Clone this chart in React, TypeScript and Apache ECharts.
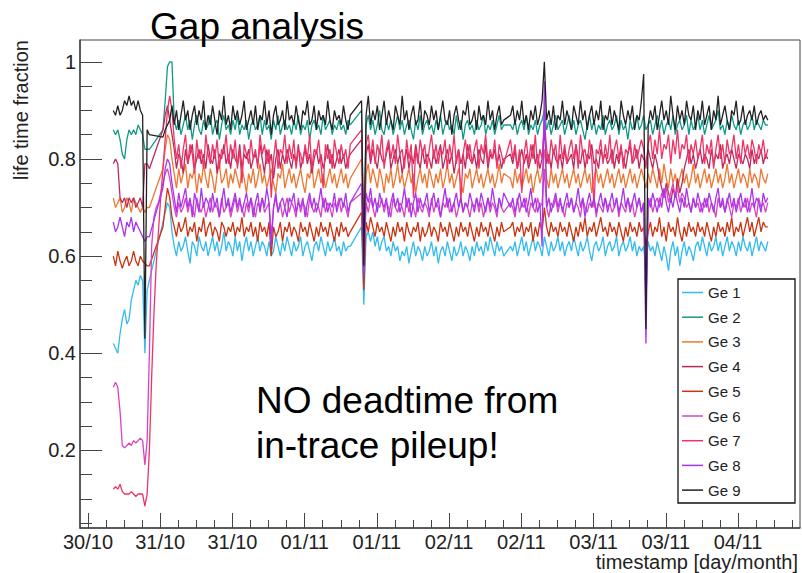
import React, { useEffect, useRef } from 'react';
import * as echarts from 'echarts';

const FONT = '"Liberation Sans", Arial, Helvetica, sans-serif';

// time axis: hours after 30/10 18:00, samples every 22.5 min
const T_START = 4.2;
const T_STEP = 0.375;

const xTickLabels = ['30/10', '31/10', '31/10', '01/11', '01/11', '02/11', '02/11', '03/11', '03/11', '04/11'];
const xTickHours = [0, 12, 24, 36, 48, 60, 72, 84, 96, 108];
const yMajorTicks = [0.2, 0.4, 0.6, 0.8, 1];
const yMinorTicks = [0.05, 0.1, 0.15, 0.25, 0.3, 0.35, 0.45, 0.5, 0.55, 0.65, 0.7, 0.75, 0.85, 0.9, 0.95];
const xMinorTicks = [3, 6, 9, 15, 18, 21, 27, 30, 33, 39, 42, 45, 51, 54, 57, 63, 66, 69, 75, 78, 81, 87, 90, 93, 99, 102, 105, 111, 114, 117];

const N = null;

// life time fraction in percent
const ge1 = [
  42, 41, 40, 44, 47, 49, 46, 47, 51, 53, 55, 54, 56, 55, 40, 53, 55, N, N, N,
  N, N, 67, 69, 71, 70, 65, 62, 60, 63, 61, 62, 64, 61, 58.5, 63, 62, 60, 64, 62,
  61, 63, 60, 62, 64, 61, 63, 60, 62, 65, 61, 63, 62, 60, 64, 61, 63, 59, 62, 64,
  61, 63, 60, 62, 64, 61, 63, 62, 60, 63, 60, 61, 64, 62, 60, 63, 61, 64, 62, 60,
  63, 61, 62, 64, 60, 62, 63, 61, 59, 62, 63, 61, 64, 62, 60, 63, 61, 62, 64, 61,
  62, 60, 63, 61, 62, 62, N, N, N, N, 66, 50, 64, 65, 63, 65, 62, 64, 61, 63,
  64, 61, 62, 60, 63, 61, 62, 59, 61, 60, 62, 58.5, 61, 63, 60, 62, 61, 59, 62, 60,
  61, 63, 60, 62, 58.5, 61, 62, 60, 63, 61, 59, 62, 60, 61, 63, 60, 62, 61, 59, 62,
  60, 63, 61, 62, 60, 63, 61, 64, 62, 60, 63, 61, 62, 60, N, N, 62, 61, 63, 60,
  62, 64, 61, 63, 60, 62, 64, 61, 63, 62, 60, 64, 62, 60, 63, 61, 62, 64, 61, 63,
  60, 62, 63, 61, 64, 62, 60, 63, 61, 62, 64, 61, 59, 62, 63, 61, 62, 64, 60, 62,
  63, 61, 62, 64, 60, 62, 63, 61, 62, 64, 61, 63, 60, 62, 61, 62, 58, 63, 61, 62,
  60, 63, 61, 59, 62, 60, 57, 61, 63, 60, 62, 58, 61, 63, 60, 62, 61, 59, 62, 63,
  61, 64, 62, 60, 63, 61, 62, 64, 61, 63, 60, 62, 64, 61, 63, 62, 60, 63, 61, 64,
  62, 61, 63, 60, 62, 64, 61, 63, 62, 61, 63,
];
const ge2 = [
  86, 85, 86, 84, 81, 80, 84, 86, 85, 86, 85, 87, 86, 85, 82, 82, 82, N, N, N,
  N, N, 86, 92, 99, 100, 100, 88, 86, 88, 85, 87, 89, 86, 88, 84, 87, 89, 86, 85,
  88, 86, 87, 89, 85, 87, 88, 84, 87, 89, 86, 87, 85, 88, 86, 89, 85, 87, 86, 88,
  84, 87, 88, 86, 87, 89, 85, 88, 86, 87, 84, 88, 86, 89, 85, 87, 88, 86, 87, 85,
  88, 86, 89, 85, 87, 86, 88, 84, 87, 88, 86, 87, 85, 89, 86, 87, 88, 85, 87, 86,
  88, 86, 87, 85, 88, 87, N, N, N, N, 90, 62, 87, 89, 86, 88, 85, 87, 90, 86,
  85, 88, 86, 88, 85, 87, 89, 86, 88, 85, 87, 88, 86, 84, 88, 86, 89, 85, 87, 88,
  86, 87, 85, 88, 86, 89, 85, 87, 88, 86, 87, 85, 89, 86, 88, 84, 87, 88, 86, 87,
  85, 88, 86, 87, 89, 85, 87, 86, 88, 85, 87, 89, 86, 87, N, N, 87, 86, 88, 85,
  87, 88, 86, 89, 85, 87, 86, 88, 85, 87, 88, 90, 86, 88, 85, 87, 89, 86, 87, 88,
  85, 87, 89, 86, 88, 85, 87, 88, 86, 84, 87, 89, 86, 88, 85, 87, 86, 89, 85, 87,
  88, 86, 87, 89, 85, 88, 86, 87, 84, 88, 86, 87, 89, 86, 87, 89, 86, 87, 88, 85,
  87, 89, 86, 88, 85, 87, 88, 86, 89, 85, 87, 88, 86, 87, 89, 85, 88, 86, 87, 89,
  86, 88, 85, 87, 89, 86, 87, 88, 90, 86, 87, 85, 88, 86, 89, 87, 86, 88, 85, 87,
  88, 86, 87, 89, 86, 88, 87, 86, 88, 87, 87,
];
const ge3 = [
  72, 70, 71, 72, 69, 70, 72, 71, 69, 72, 71, 70, 69, 70, 69, 70, 70, N, N, N,
  N, N, 78, 82, 85, 84, 80, 77, 74, 78, 75, 77, 79, 74, 77, 76, 78, 73, 77, 75,
  79, 76, 74, 78, 76, 73, 77, 79, 75, 76, 78, 74, 77, 75, 78, 76, 74, 78, 76, 73,
  77, 75, 78, 74, 76, 79, 75, 77, 74, 76, 78, 75, 73, 77, 76, 79, 74, 76, 78, 75,
  77, 74, 76, 78, 75, 73, 77, 76, 79, 74, 76, 78, 75, 77, 74, 76, 78, 75, 77, 74,
  76, 78, 75, 77, 74, 76, N, N, N, N, 80, 58, 77, 79, 75, 78, 76, 74, 78, 76,
  73, 77, 75, 78, 74, 76, 79, 75, 77, 74, 76, 78, 75, 77, 73, 76, 78, 75, 77, 74,
  78, 76, 74, 77, 75, 78, 74, 76, 79, 75, 77, 74, 76, 78, 75, 73, 77, 76, 78, 74,
  76, 78, 75, 77, 74, 76, 78, 75, 77, 74, 76, 79, 75, 77, N, N, 76, 74, 78, 75,
  77, 74, 76, 78, 75, 77, 73, 76, 78, 75, 77, 82, 76, 74, 78, 75, 77, 74, 76, 78,
  75, 77, 74, 76, 78, 75, 77, 74, 76, 78, 75, 77, 73, 76, 78, 75, 77, 74, 76, 78,
  75, 77, 74, 76, 78, 75, 77, 74, 76, 78, 75, 77, 74, 76, 78, 76, 74, 77, 75, 78,
  76, 74, 78, 75, 79, 76, 74, 78, 75, 77, 74, 76, 78, 75, 77, 74, 76, 79, 75, 77,
  74, 76, 78, 75, 77, 74, 76, 78, 75, 77, 74, 76, 79, 75, 77, 74, 76, 78, 75, 77,
  76, 74, 78, 75, 77, 76, 74, 78, 76, 75, 77,
];
const ge4 = [
  79, 80, 79, 72, 71, 72, 70, 72, 71, 72, 70, 71, 72, 70, 79, 79, 78, N, N, N,
  N, N, 86, 89, 91, 88, 85, 82, 78, 81, 80, 77, 82, 79, 81, 83, 78, 80, 82, 79,
  81, 78, 83, 80, 79, 82, 77, 81, 80, 83, 79, 81, 78, 82, 80, 79, 83, 78, 81, 80,
  82, 78, 80, 81, 79, 83, 80, 77, 82, 79, 81, 76, 80, 82, 78, 81, 79, 82, 80, 78,
  81, 79, 83, 78, 80, 82, 79, 81, 77, 80, 82, 79, 81, 78, 80, 83, 79, 81, 78, 80,
  82, 79, 81, 78, 80, 81, N, N, N, N, 84, 60, 81, 83, 79, 82, 80, 78, 82, 80,
  79, 81, 83, 78, 80, 82, 79, 81, 77, 80, 82, 78, 81, 79, 83, 80, 78, 82, 79, 81,
  80, 78, 82, 79, 81, 83, 78, 80, 82, 79, 81, 77, 80, 82, 79, 81, 78, 83, 80, 79,
  81, 78, 82, 80, 79, 83, 78, 81, 80, 82, 79, 81, 78, 80, N, N, 81, 79, 82, 78,
  80, 82, 79, 81, 78, 80, 83, 79, 81, 78, 80, 86, 79, 81, 78, 82, 80, 79, 81, 78,
  82, 79, 80, 81, 78, 83, 80, 79, 82, 78, 81, 80, 83, 79, 80, 78, 82, 80, 81, 79,
  80, 82, 78, 81, 79, 82, 80, 78, 81, 83, 79, 80, 82, 78, 81, 80, 79, 82, 80, 78,
  81, 79, 76, 74, 72, 75, 73, 71, 74, 72, 76, 73, 75, 78, 80, 82, 79, 81, 78, 80,
  82, 79, 81, 80, 78, 82, 79, 81, 80, 83, 78, 80, 81, 79, 82, 80, 78, 81, 80, 79,
  81, 80, 78, 82, 79, 81, 80, 82, 79, 81, 80,
];
const ge5 = [
  60, 58, 61, 59, 57.5, 59, 60, 58, 59, 61, 59, 58, 60, 59, 58.5, 58, 58, N, N, N,
  N, N, 66, 70, 74, 72, 68, 66, 64, 67, 65, 66, 68, 64, 66, 65, 67, 63, 66, 65,
  68, 64, 66, 67, 64, 66, 65, 63, 67, 66, 64, 66, 65, 67, 64, 66, 65, 68, 64, 66,
  65, 67, 64, 66, 63, 67, 65, 66, 64, 67, 60, 66, 64, 65, 67, 63, 66, 65, 67, 64,
  66, 65, 63, 67, 65, 66, 64, 67, 65, 63, 66, 64, 67, 65, 66, 64, 67, 65, 63, 66,
  64, 67, 65, 66, 64, 65, N, N, N, N, 69, 53, 67, 65, 68, 66, 64, 67, 65, 66,
  64, 67, 65, 63, 66, 64, 67, 65, 66, 63, 67, 65, 64, 66, 65, 67, 63, 66, 64, 65,
  67, 64, 66, 65, 63, 67, 65, 66, 64, 67, 65, 63, 66, 64, 67, 65, 66, 64, 67, 65,
  63, 66, 64, 67, 65, 66, 64, 67, 65, 63, 66, 64, 67, 65, N, N, 66, 67, 64, 66,
  65, 67, 64, 66, 65, 67, 63, 66, 64, 67, 65, 70, 66, 64, 67, 65, 66, 64, 67, 65,
  66, 64, 67, 65, 63, 66, 64, 67, 65, 68, 64, 66, 65, 67, 64, 66, 68, 65, 66, 64,
  67, 65, 66, 64, 67, 65, 63, 66, 64, 67, 65, 66, 64, 67, 65, 66, 62, 65, 67, 64,
  66, 65, 68, 64, 66, 63, 67, 65, 66, 64, 68, 65, 63, 66, 64, 67, 65, 66, 64, 67,
  65, 66, 64, 67, 65, 63, 66, 64, 67, 65, 66, 64, 67, 65, 68, 64, 66, 65, 67, 64,
  66, 68, 65, 67, 64, 66, 68, 65, 67, 66, 66,
];
const ge6 = [
  33, 34, 33, 28, 21, 20.5, 21, 21.5, 21, 22, 21.5, 22, 22.5, 22, 17, 22, 40, 62, 68, 70,
  71, 73, 75, 77, 78, 76, 73, 70, 68, 71, 69, 70, 72, 69, 71, 70, 68, 72, 70, 69,
  71, 68, 70, 72, 69, 71, 70, 68, 72, 69, 70, 71, 68, 70, 72, 69, 71, 70, 68, 71,
  69, 72, 70, 68, 71, 70, 72, 69, 70, 71, 64, 70, 72, 69, 71, 68, 70, 72, 69, 71,
  70, 68, 72, 69, 71, 70, 68, 72, 70, 69, 71, 70, 68, 72, 69, 71, 70, 68, 71, 70,
  72, 69, 71, 70, 68, 71, N, N, N, N, 73, 57, 71, 69, 72, 70, 68, 71, 70, 72,
  69, 71, 70, 68, 72, 70, 69, 71, 70, 68, 72, 69, 71, 70, 68, 72, 70, 69, 71, 70,
  68, 72, 69, 71, 70, 68, 71, 70, 72, 69, 70, 71, 68, 70, 72, 69, 71, 70, 68, 71,
  70, 72, 69, 71, 68, 70, 72, 69, 71, 70, 68, 72, 70, 69, N, N, 71, 70, 68, 72,
  69, 71, 70, 72, 68, 71, 70, 69, 72, 70, 71, 78, 70, 68, 71, 70, 72, 69, 71, 70,
  68, 71, 70, 72, 69, 71, 70, 68, 72, 70, 69, 71, 70, 72, 68, 71, 70, 69, 72, 70,
  71, 69, 70, 72, 68, 71, 70, 69, 72, 70, 71, 68, 70, 72, 69, 71, 50, 70, 72, 69,
  71, 72, 70, 73, 72, 74, 71, 73, 75, 72, 74, 71, 73, 72, 70, 71, 69, 72, 70, 71,
  69, 71, 70, 72, 69, 71, 70, 68, 72, 70, 71, 69, 72, 70, 68, 71, 70, 72, 69, 71,
  70, 72, 69, 71, 70, 68, 72, 70, 71, 69, 71,
];
const ge7 = [
  12, 12.5, 12, 13, 11.5, 11, 11, 11, 11.5, 11, 10.5, 11, 11, 11, 8.5, 11, 20, 35, 48, 58,
  65, 72, 78, 84, 90, 93, 90, 84, 80, 83, 78, 82, 85, 79, 83, 81, 77, 84, 80, 82,
  78, 85, 81, 79, 83, 80, 84, 78, 82, 81, 85, 79, 83, 80, 84, 78, 82, 75, 83, 81,
  79, 84, 80, 82, 78, 85, 81, 83, 79, 82, 72, 80, 84, 78, 82, 81, 85, 79, 83, 80,
  84, 78, 82, 81, 79, 83, 80, 85, 78, 82, 81, 84, 79, 74, 83, 80, 82, 78, 84, 81,
  79, 83, 80, 82, 78, 83, N, N, N, N, 86, 62, 83, 85, 80, 84, 79, 83, 81, 85,
  78, 82, 84, 80, 83, 79, 85, 81, 82, 78, 84, 80, 83, 72, 82, 79, 84, 81, 83, 78,
  82, 85, 80, 83, 79, 82, 81, 84, 78, 83, 80, 85, 79, 82, 71, 81, 84, 80, 83, 79,
  82, 84, 78, 83, 81, 85, 79, 82, 80, 84, 78, 83, 81, 79, N, N, 84, 80, 83, 78,
  82, 73, 81, 84, 79, 83, 80, 85, 78, 82, 80, 88, 82, 79, 84, 81, 83, 78, 85, 80,
  83, 79, 82, 84, 80, 83, 78, 85, 81, 82, 79, 84, 80, 70, 82, 81, 84, 79, 83, 80,
  85, 79, 82, 84, 80, 83, 78, 82, 81, 84, 79, 83, 80, 82, 84, 82, 78, 83, 85, 80,
  84, 81, 86, 80, 83, 82, 85, 79, 84, 81, 86, 80, 83, 82, 85, 79, 83, 81, 84, 80,
  82, 85, 79, 83, 81, 84, 78, 82, 85, 80, 83, 79, 84, 81, 82, 85, 80, 83, 79, 84,
  81, 83, 80, 84, 82, 79, 83, 81, 84, 80, 82,
];
const ge8 = [
  67, 65, 66, 68, 66, 64, 67, 66, 68, 65, 67, 66, 65, 64, 63, 64, 64, N, N, N,
  N, N, 74, 78, 80, 79, 75, 72, 69, 73, 70, 72, 74, 70, 72, 68, 73, 71, 69, 74,
  70, 72, 71, 69, 73, 70, 72, 68, 71, 74, 70, 72, 69, 71, 73, 70, 72, 69, 71, 73,
  70, 72, 68, 71, 73, 69, 72, 70, 74, 71, 62, 70, 73, 69, 71, 72, 70, 68, 72, 71,
  73, 69, 71, 70, 72, 68, 71, 73, 70, 72, 69, 71, 74, 70, 72, 69, 71, 70, 73, 69,
  71, 72, 70, 73, 69, 71, N, N, N, N, 75, 56, 73, 71, 74, 70, 72, 69, 73, 71,
  70, 72, 68, 71, 73, 70, 72, 69, 71, 74, 70, 72, 68, 71, 73, 69, 72, 70, 71, 73,
  69, 71, 73, 70, 72, 68, 71, 74, 70, 72, 69, 71, 73, 70, 72, 69, 71, 70, 73, 71,
  69, 72, 70, 73, 71, 69, 72, 70, 74, 71, 69, 72, 70, 73, N, N, 70, 72, 69, 71,
  73, 70, 72, 69, 71, 74, 70, 72, 69, 71, 62, 96, 70, 72, 69, 71, 73, 70, 72, 69,
  71, 73, 70, 72, 69, 71, 74, 70, 72, 68, 71, 73, 70, 72, 69, 71, 73, 70, 72, 69,
  71, 73, 70, 72, 69, 71, 74, 70, 72, 69, 71, 73, 70, 72, 69, 71, 42, 72, 70, 73,
  71, 69, 72, 70, 74, 71, 69, 72, 70, 73, 71, 69, 72, 70, 74, 71, 69, 72, 70, 73,
  71, 69, 72, 70, 73, 71, 69, 72, 74, 70, 72, 69, 71, 73, 70, 72, 69, 71, 73, 70,
  72, 69, 71, 74, 70, 72, 71, 69, 73, 71, 72,
];
const ge9 = [
  90, 89, 91, 89, 90, 92, 91, 93, 91, 92, 90, 92, 90, 89, 43, 86, 85, N, N, N,
  N, N, 84.5, 86, 87, 88, 91, 87, 90, 86, 89, 92, 88, 90, 86, 89, 91, 87, 90, 88,
  92, 86, 89, 87, 91, 88, 85, 90, 88, 93, 87, 89, 86, 91, 88, 90, 87, 89, 92, 86,
  88, 90, 87, 91, 86, 89, 88, 92, 87, 90, 85, 89, 91, 87, 88, 90, 86, 92, 88, 89,
  87, 91, 88, 86, 90, 89, 92, 87, 88, 91, 86, 90, 88, 89, 87, 92, 88, 86, 90, 88,
  89, 87, 91, 88, 86, 89, N, N, N, N, 92, 58, 89, 93, 87, 90, 88, 91, 86, 89,
  92, 87, 90, 88, 86, 91, 89, 87, 93, 88, 90, 86, 89, 91, 87, 88, 92, 86, 90, 89,
  87, 91, 88, 90, 86, 89, 92, 88, 87, 90, 85, 89, 91, 88, 86, 90, 89, 92, 87, 88,
  90, 86, 91, 88, 89, 87, 92, 88, 90, 86, 89, 91, 87, 88, N, N, 89, 91, 87, 90,
  88, 92, 87, 89, 86, 90, 88, 91, 87, 89, 92, 100, 88, 90, 87, 91, 86, 89, 88, 92,
  87, 90, 88, 86, 91, 89, 87, 92, 88, 90, 86, 89, 91, 87, 90, 88, 92, 86, 89, 88,
  91, 87, 90, 88, 86, 92, 89, 87, 90, 88, 91, 86, 89, 88, 92, 97.5, 45, 87, 90, 88,
  91, 86, 89, 92, 88, 90, 87, 93, 89, 86, 91, 88, 90, 87, 92, 89, 88, 91, 86, 90,
  88, 92, 87, 89, 91, 86, 90, 88, 93, 87, 89, 91, 88, 86, 90, 89, 92, 87, 88, 91,
  87, 89, 90, 88, 91, 87, 89, 90, 88, 89, 88,
];

const seriesNames = ['Ge 1', 'Ge 2', 'Ge 3', 'Ge 4', 'Ge 5', 'Ge 6', 'Ge 7', 'Ge 8', 'Ge 9'];
const seriesValues = [ge1, ge2, ge3, ge4, ge5, ge6, ge7, ge8, ge9];
const seriesColors = ['#33BBEE', '#119988', '#EE7733', '#BB2A5E', '#CC3311', '#D844C0', '#EE3366', '#AA33EE', '#222222'];

export default function App() {
  const ref = useRef<HTMLDivElement>(null);

  useEffect(() => {
    if (!ref.current) return;
    const chart = echarts.init(ref.current, undefined, { renderer: 'svg' });

    const series = seriesValues.map((vals, k) => ({
      name: seriesNames[k],
      type: 'line',
      xAxisIndex: 0,
      yAxisIndex: 0,
      showSymbol: false,
      symbol: 'none',
      connectNulls: true,
      color: seriesColors[k],
      lineStyle: { width: 1.3, color: seriesColors[k] },
      data: vals.map((v, i) => [T_START + i * T_STEP, v == null ? null : v / 100]),
    }));

    const axisColor = '#444';
    const labelStyle = { color: '#222', fontFamily: FONT, fontSize: 20, lineHeight: 19 };

    chart.setOption({
      animation: false,
      backgroundColor: '#ffffff',
      grid: {
        left: 80, right: 2, top: 40, bottom: 45,
        show: true, borderColor: axisColor, borderWidth: 1, backgroundColor: 'transparent',
      },
      xAxis: [
        {
          type: 'value', min: -1.33, max: 118.3,
          axisLine: { show: true, onZero: false, lineStyle: { color: axisColor, width: 1.5 } },
          axisTick: { show: true, inside: true, length: 15, customValues: xTickHours, lineStyle: { color: axisColor } },
          axisLabel: {
            show: true, customValues: xTickHours, margin: 4, ...labelStyle,
            formatter: (v: number) => xTickLabels[Math.round(v / 12)] ?? '',
          },
          splitLine: { show: false },
        },
        {
          type: 'value', min: -1.33, max: 118.3, position: 'bottom',
          axisLine: { show: false, onZero: false },
          axisTick: { show: true, inside: true, length: 8, customValues: xMinorTicks, lineStyle: { color: axisColor } },
          axisLabel: { show: false },
          splitLine: { show: false },
        },
      ],
      yAxis: [
        {
          type: 'value', min: 0.04, max: 1.045,
          axisLine: { show: true, onZero: false, lineStyle: { color: axisColor, width: 1.5 } },
          axisTick: { show: true, inside: true, length: 22, customValues: yMajorTicks, lineStyle: { color: axisColor } },
          axisLabel: {
            show: true, customValues: yMajorTicks, margin: 4, ...labelStyle,
            formatter: (v: number) => (Math.abs(v - 1) < 1e-9 ? '1' : v.toFixed(1)),
          },
          splitLine: { show: false },
        },
        {
          type: 'value', min: 0.04, max: 1.045, position: 'left',
          axisLine: { show: false, onZero: false },
          axisTick: { show: true, inside: true, length: 12, customValues: yMinorTicks, lineStyle: { color: axisColor } },
          axisLabel: { show: false },
          splitLine: { show: false },
        },
      ],
      legend: {
        show: true,
        orient: 'vertical',
        left: 682, top: 284,
        padding: 0,
        icon: 'rect',
        itemWidth: 21, itemHeight: 1.5,
        itemGap: 7.7,
        data: seriesNames,
        textStyle: { color: '#222', fontFamily: FONT, fontSize: 15, lineHeight: 17 },
        z: 10,
      },
      graphic: [
        {
          type: 'rect', z: 5,
          shape: { x: 678, y: 279, width: 117, height: 224 },
          style: { fill: '#ffffff', stroke: '#111', lineWidth: 1.3 },
        },
        {
          type: 'text', x: 257, y: 26,
          style: { text: 'Gap analysis', fontFamily: FONT, fontSize: 37, fill: '#000', align: 'center', verticalAlign: 'middle' },
        },
        {
          type: 'text', x: 21, y: 40, rotation: Math.PI / 2,
          style: { text: 'life time fraction', fontFamily: FONT, fontSize: 20, fill: '#222', align: 'right', verticalAlign: 'middle' },
        },
        {
          type: 'text', x: 798, y: 562,
          style: { text: 'timestamp [day/month]', fontFamily: FONT, fontSize: 20, lineHeight: 18, fill: '#222', align: 'right', verticalAlign: 'middle' },
        },
        {
          type: 'text', x: 256, y: 400,
          style: { text: 'NO deadtime from', fontFamily: FONT, fontSize: 37, fill: '#000', align: 'left', verticalAlign: 'middle' },
        },
        {
          type: 'text', x: 256, y: 445,
          style: { text: 'in-trace pileup!', fontFamily: FONT, fontSize: 37, fill: '#000', align: 'left', verticalAlign: 'middle' },
        },
      ],
      series,
    });

    return () => chart.dispose();
  }, []);

  return <div ref={ref} style={{ position: 'fixed', left: 0, top: 0, width: 802, height: 573 }} />;
}
